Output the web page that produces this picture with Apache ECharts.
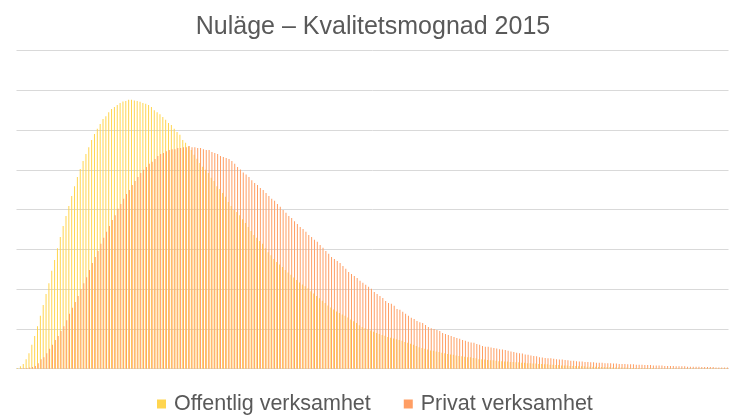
<!DOCTYPE html>
<html>
<head>
<meta charset="utf-8">
<script src="https://cdn.jsdelivr.net/npm/echarts@6/dist/echarts.min.js"></script>
<style>
html,body{margin:0;padding:0;background:#fff;}
#chart{width:746px;height:419px;}
</style>
</head>
<body>
<div id="chart"></div>
<script>
const titleText = "Nuläge – Kvalitetsmognad 2015";
const seriesNames = ["Offentlig verksamhet", "Privat verksamhet"];

const categories = [
1,2,3,4,5,6,7,8,9,10,11,12,13,14,15,16,17,18,19,20,21,22,23,24,25,26,27,28,29,30,
31,32,33,34,35,36,37,38,39,40,41,42,43,44,45,46,47,48,49,50,51,52,53,54,55,56,57,58,59,60,
61,62,63,64,65,66,67,68,69,70,71,72,73,74,75,76,77,78,79,80,81,82,83,84,85,86,87,88,89,90,
91,92,93,94,95,96,97,98,99,100,101,102,103,104,105,106,107,108,109,110,111,112,113,114,115,116,117,118,119,120,
121,122,123,124,125,126,127,128,129,130,131,132,133,134,135,136,137,138,139,140,141,142,143,144,145,146,147,148,149,150,
151,152,153,154,155,156,157,158,159,160,161,162,163,164,165,166,167,168,169,170,171,172,173,174,175,176,177,178,179,180,
181,182,183,184,185,186,187,188,189,190,191,192,193,194,195,196,197,198,199,200,201,202,203,204,205,206,207,208,209,210,
211,212,213,214,215,216,217,218,219,220,221,222,223,224,225,226,227,228,229,230,231,232,233,234,235,236,237,238,239,240,
241,242,243,244,245,246,247,248,249,250
];

const offentlig = [
0.02,0.06,0.12,0.24,0.39,0.60,0.82,1.07,1.33,1.60,
1.88,2.15,2.46,2.73,3.03,3.31,3.59,3.84,4.09,4.34,
4.59,4.82,5.02,5.22,5.40,5.57,5.75,5.90,6.03,6.15,
6.28,6.35,6.45,6.53,6.58,6.63,6.68,6.72,6.73,6.76,
6.76,6.74,6.73,6.71,6.68,6.66,6.63,6.58,6.50,6.45,
6.40,6.33,6.26,6.18,6.13,6.03,5.95,5.88,5.75,5.68,
5.59,5.50,5.38,5.28,5.17,5.08,5.00,4.92,4.80,4.72,
4.59,4.52,4.42,4.32,4.19,4.09,3.99,3.94,3.86,3.76,
3.66,3.56,3.46,3.36,3.29,3.21,3.14,3.03,2.93,2.85,
2.76,2.68,2.62,2.56,2.48,2.42,2.36,2.29,2.23,2.17,
2.12,2.07,2.02,1.95,1.89,1.83,1.77,1.71,1.65,1.59,
1.54,1.49,1.44,1.40,1.36,1.33,1.29,1.24,1.19,1.15,
1.09,1.05,1.02,0.99,0.96,0.93,0.90,0.87,0.85,0.83,
0.80,0.78,0.76,0.74,0.72,0.70,0.67,0.65,0.63,0.60,
0.57,0.54,0.52,0.50,0.48,0.46,0.45,0.43,0.42,0.40,
0.39,0.37,0.36,0.35,0.33,0.32,0.31,0.30,0.29,0.29,
0.27,0.26,0.24,0.24,0.23,0.22,0.21,0.21,0.20,0.19,
0.19,0.18,0.18,0.17,0.17,0.16,0.16,0.15,0.15,0.14,
0.14,0.13,0.13,0.12,0.12,0.11,0.11,0.10,0.10,0.09,
0.09,0.08,0.08,0.08,0.07,0.07,0.07,0.06,0.06,0.06,
0.05,0.05,0.05,0.05,0.04,0.04,0.04,0.04,0.04,0.03,
0.03,0.03,0.03,0.03,0.03,0.02,0.02,0.02,0.02,0.02,
0.02,0.02,0.02,0.02,0.01,0.01,0.01,0.01,0.01,0.01,
0.01,0.01,0.01,0.01,0.01,0.01,0.01,0.01,0.01,0.01,
0.01,0.01,0.01,0.01,0.01,0.01,0.01,0.01,0.01,0.01
];

const privat = [
0.00,0.01,0.01,0.02,0.03,0.04,0.07,0.14,0.24,0.29,
0.39,0.50,0.60,0.72,0.82,0.95,1.07,1.22,1.38,1.53,
1.68,1.83,2.00,2.15,2.30,2.48,2.66,2.81,2.96,3.14,
3.29,3.44,3.59,3.74,3.86,4.02,4.14,4.27,4.39,4.49,
4.62,4.72,4.82,4.92,5.00,5.07,5.15,5.20,5.27,5.35,
5.40,5.42,5.47,5.50,5.52,5.52,5.55,5.55,5.57,5.57,
5.60,5.57,5.57,5.55,5.55,5.52,5.50,5.50,5.45,5.42,
5.40,5.35,5.32,5.30,5.27,5.22,5.15,5.07,5.01,4.93,
4.88,4.82,4.74,4.67,4.62,4.54,4.49,4.42,4.34,4.27,
4.22,4.14,4.07,3.99,3.92,3.84,3.79,3.71,3.64,3.56,
3.51,3.44,3.36,3.31,3.24,3.19,3.11,3.04,2.96,2.89,
2.81,2.76,2.71,2.66,2.58,2.51,2.43,2.38,2.33,2.28,
2.21,2.16,2.11,2.06,2.01,1.93,1.88,1.83,1.78,1.70,
1.65,1.63,1.58,1.50,1.48,1.43,1.38,1.33,1.28,1.25,
1.20,1.17,1.15,1.10,1.05,1.02,1.00,0.97,0.95,0.90,
0.87,0.85,0.82,0.80,0.77,0.75,0.72,0.70,0.68,0.66,
0.65,0.62,0.60,0.57,0.55,0.55,0.53,0.52,0.51,0.49,
0.48,0.47,0.45,0.43,0.42,0.40,0.39,0.38,0.36,0.35,
0.33,0.32,0.31,0.29,0.28,0.27,0.26,0.26,0.25,0.24,
0.23,0.23,0.22,0.21,0.20,0.20,0.19,0.18,0.18,0.17,
0.17,0.16,0.16,0.15,0.15,0.15,0.14,0.14,0.14,0.13,
0.13,0.12,0.12,0.12,0.11,0.11,0.11,0.10,0.10,0.10,
0.09,0.09,0.09,0.08,0.08,0.08,0.08,0.07,0.07,0.07,
0.07,0.06,0.06,0.06,0.06,0.05,0.05,0.05,0.05,0.05,
0.04,0.04,0.04,0.04,0.04,0.03,0.03,0.03,0.03,0.03
];

const font = '"Liberation Sans", Arial, sans-serif';
const chart = echarts.init(document.getElementById('chart'), null, {renderer: 'canvas'});
chart.setOption({
  animation: false,
  backgroundColor: '#ffffff',
  title: {
    text: titleText,
    left: 'center',
    top: 10,
    textStyle: {fontFamily: font, fontSize: 25, fontWeight: 'normal', color: '#595959'}
  },
  legend: {
    data: seriesNames,
    left: 157,
    top: 393,
    padding: 0,
    itemWidth: 9,
    itemHeight: 9,
    itemGap: 33,
    icon: 'rect',
    textStyle: {fontFamily: font, fontSize: 21.5, color: '#595959', padding: [0, 0, 0, 3]}
  },
  grid: {left: 16.5, right: 17.5, top: 50.5, bottom: 50.3, containLabel: false},
  xAxis: {
    type: 'category',
    data: categories,
    axisLine: {show: true, lineStyle: {color: '#d9d9d9', width: 1}},
    axisTick: {show: false},
    axisLabel: {show: false},
    splitLine: {show: false}
  },
  yAxis: {
    type: 'value',
    min: 0,
    max: 8,
    interval: 1,
    axisLine: {show: false},
    axisTick: {show: false},
    axisLabel: {show: false},
    splitLine: {show: true, lineStyle: {color: '#d9d9d9', width: 1}}
  },
  series: [
    {
      name: seriesNames[0],
      type: 'bar',
      data: offentlig,
      barWidth: 0.95,
      barGap: '-30%',
      itemStyle: {color: '#FFD54F'}
    },
    {
      name: seriesNames[1],
      type: 'bar',
      data: privat,
      barWidth: 0.95,
      barGap: '-30%',
      itemStyle: {color: '#FF9E64'}
    }
  ]
});
</script>
</body>
</html>
